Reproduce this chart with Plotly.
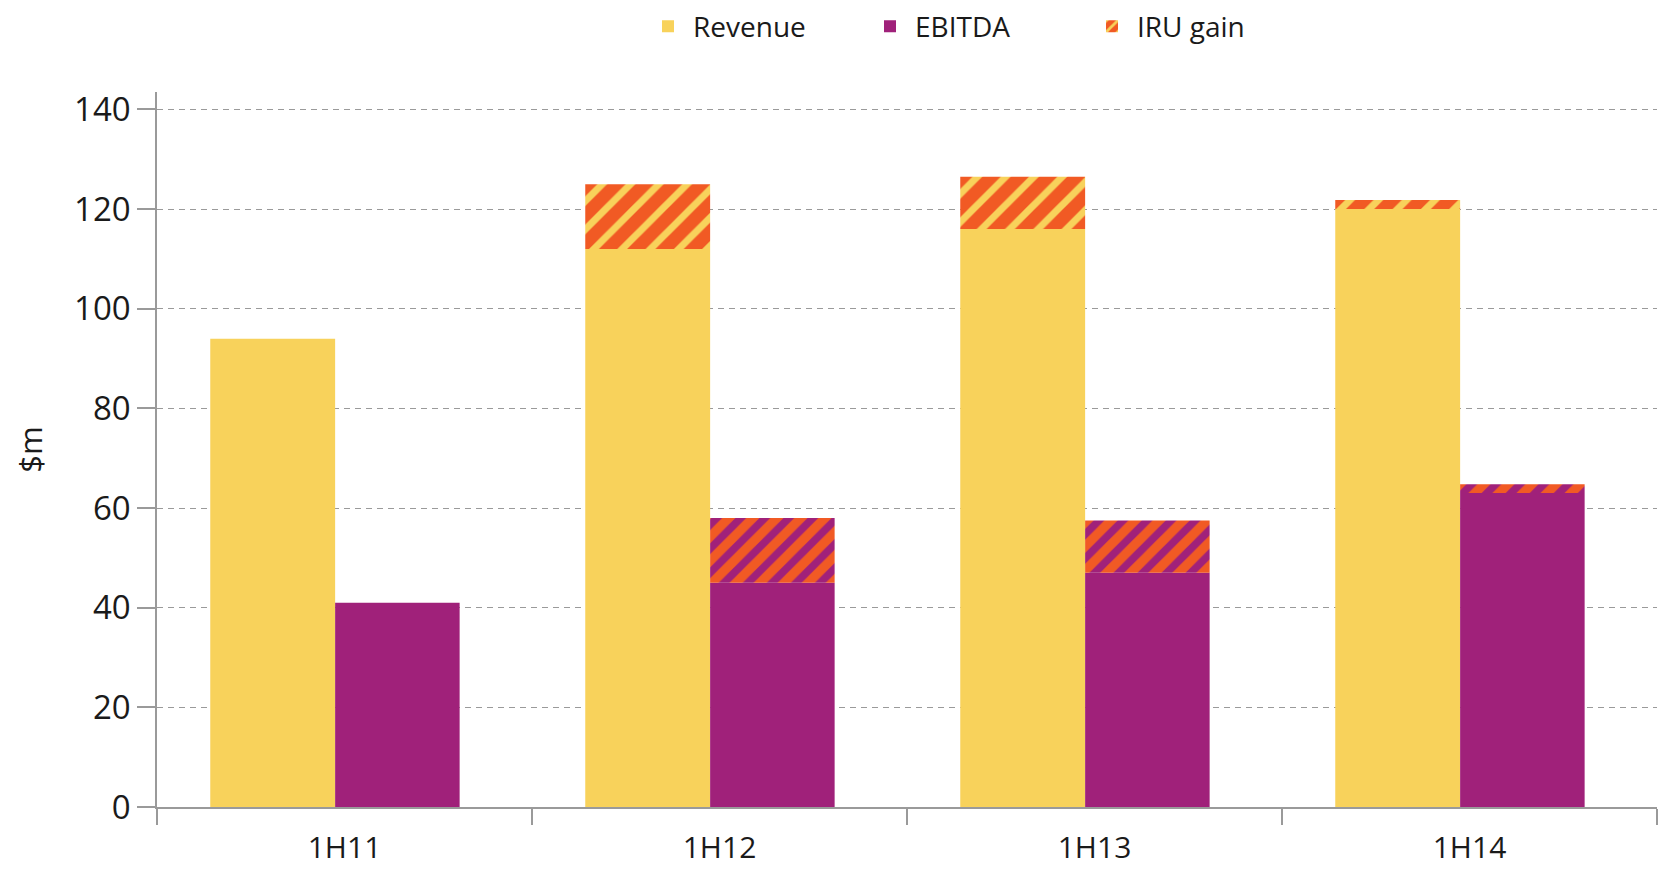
import plotly.graph_objects as go

categories = ["1H11", "1H12", "1H13", "1H14"]
revenue = [94, 112, 116, 120]
revenue_iru = [0, 13, 10.5, 1.8]
ebitda = [41, 45, 47, 63]
ebitda_iru = [0, 13, 10.5, 1.8]
y_ticks = [0, 20, 40, 60, 80, 100, 120, 140]

YELLOW = "#F8D25B"
PURPLE = "#A0217A"
ORANGE = "#F15A24"
GRID = "#9A9A9A"
FONT = "Open Sans"

W_REV, OFF_REV = 0.333, -0.358
W_EB, OFF_EB = 0.332, -0.025

fig = go.Figure()
fig.add_trace(go.Bar(
    x=categories, y=revenue, name="Revenue", marker=dict(color=YELLOW, line=dict(width=0)),
    width=W_REV, offset=OFF_REV, showlegend=True,
))
fig.add_trace(go.Bar(
    x=categories, y=ebitda, name="EBITDA", marker=dict(color=PURPLE, line=dict(width=0)),
    width=W_EB, offset=OFF_EB, showlegend=True,
))
fig.add_trace(go.Bar(
    x=categories, y=revenue_iru, base=revenue, name="IRU gain",
    marker=dict(color=ORANGE, line=dict(width=0),
                pattern=dict(shape="/", bgcolor=ORANGE, fgcolor=YELLOW, fgopacity=1,
                             size=20, solidity=0.35, fillmode="replace")),
    width=W_REV, offset=OFF_REV, showlegend=True,
))
fig.add_trace(go.Bar(
    x=categories, y=ebitda_iru, base=ebitda, name="IRU gain (EBITDA)",
    marker=dict(color=ORANGE, line=dict(width=0),
                pattern=dict(shape="/", bgcolor=ORANGE, fgcolor=PURPLE, fgopacity=1,
                             size=17, solidity=0.45, fillmode="replace")),
    width=W_EB, offset=OFF_EB, showlegend=False,
))

fig.update_layout(
    width=1660, height=870,
    margin=dict(l=157, r=3, t=92, b=63),
    paper_bgcolor="white", plot_bgcolor="white",
    font=dict(family=FONT, color="#1a1a1a"),
    barmode="overlay",
    legend=dict(orientation="h", x=0.324, xanchor="left", y=0.9695, yanchor="middle",
                yref="container", font=dict(size=28, family=FONT), itemwidth=40,
                traceorder="normal", entrywidth=167, entrywidthmode="pixels"),
)

fig.update_xaxes(
    range=[-0.5, 3.5], showline=True, linecolor=GRID, linewidth=1.5,
    tickson="boundaries", ticks="outside", ticklen=16, tickcolor=GRID, tickwidth=1.5,
    tickfont=dict(size=30, family=FONT, color="#1a1a1a"), showgrid=False, zeroline=False,
    ticklabelstandoff=13, automargin=False,
)
fig.update_yaxes(
    range=[0, 143.5], tickvals=y_ticks, showline=True, linecolor=GRID, linewidth=1.5,
    ticks="outside", ticklen=18, tickcolor=GRID, tickwidth=1.5,
    tickfont=dict(size=33, family=FONT, color="#1a1a1a"),
    showgrid=True, gridcolor=GRID, griddash="6px,5px", gridwidth=1.2, zeroline=False,
    title=dict(text="$m", font=dict(size=31, family=FONT, color="#1a1a1a"), standoff=22),
    automargin=False,
)

fig.write_html("out.html", post_script="document.body.style.margin='0px';",
               config={"displayModeBar": False})
